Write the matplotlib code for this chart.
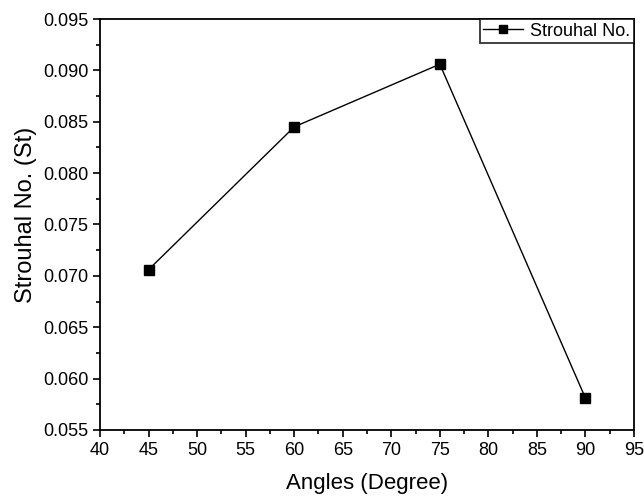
import matplotlib
matplotlib.use("Agg")
import matplotlib.pyplot as plt
from matplotlib.ticker import MultipleLocator

plt.rcParams['font.family'] = ['Liberation Sans', 'DejaVu Sans']

angles = [45, 60, 75, 90]
strouhal = [0.0706, 0.0845, 0.0906, 0.0581]

fig = plt.figure(figsize=(6.44, 5.0), dpi=100)
ax = fig.add_axes([100/644, 70/500, 534/644, 411/500])

ax.plot(angles, strouhal, color='black', lw=1, marker='s', ms=7.5, label='Strouhal No.')

ax.set_xlim(40, 95)
ax.set_ylim(0.055, 0.095)
ax.xaxis.set_major_locator(MultipleLocator(5))
ax.xaxis.set_minor_locator(MultipleLocator(2.5))
ax.yaxis.set_major_locator(MultipleLocator(0.005))
ax.yaxis.set_minor_locator(MultipleLocator(0.0025))
ax.yaxis.set_major_formatter(plt.FormatStrFormatter('%.3f'))
ax.tick_params(which='major', direction='out', length=5, width=1.2, labelsize=13)
ax.tick_params(which='minor', direction='out', length=3, width=1.2)
ax.tick_params(top=False, right=False)
for s in ax.spines.values():
    s.set_linewidth(1.3)

ax.set_xlabel('Angles (Degree)', fontsize=16, labelpad=10)
ax.set_ylabel('Strouhal No. (St)', fontsize=17)
ax.yaxis.set_label_coords(-0.118, 0.523)

leg = ax.legend(loc='upper right', fontsize=13, frameon=True, fancybox=False,
                borderaxespad=0, borderpad=0.2, handlelength=2.2, handletextpad=0.4,
                markerscale=0.75)
leg.get_frame().set_edgecolor('black')
leg.get_frame().set_linewidth(1.3)

fig.savefig('out.png', dpi=100)
